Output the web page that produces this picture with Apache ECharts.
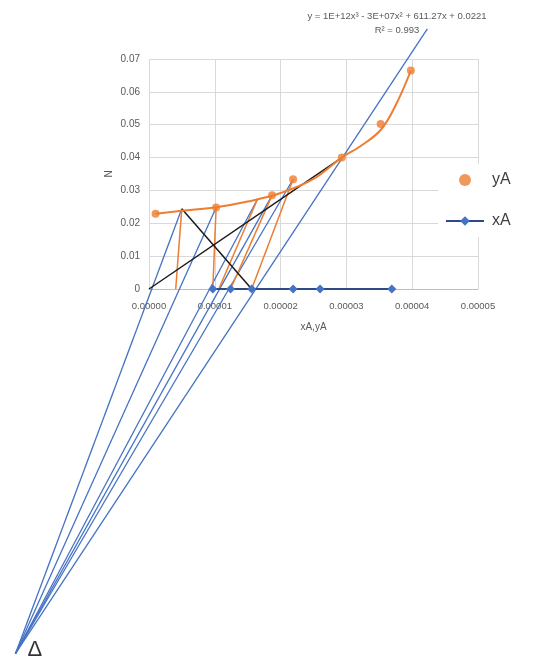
<!DOCTYPE html>
<html>
<head>
<meta charset="utf-8">
<script src="https://cdn.jsdelivr.net/npm/echarts@6/dist/echarts.min.js"></script>
<style>
  html, body { margin: 0; padding: 0; background: #fff; }
  #chart { width: 542px; height: 659px; }
</style>
</head>
<body>
<div id="chart"></div>
<script>
// Upper curve: extract-side points (yA, N)
const yA_x = [1.0e-6, 1.02e-5, 1.87e-5, 2.19e-5, 2.93e-5, 3.52e-5, 3.98e-5];
const yA_N = [0.0229, 0.0248, 0.0285, 0.0334, 0.0400, 0.0502, 0.0665];

// Lower line: raffinate-side points (xA, N = 0)
const xA_x = [9.7e-6, 1.24e-5, 1.56e-5, 2.19e-5, 2.60e-5, 3.69e-5];
const xA_N = [0, 0, 0, 0, 0, 0];

// Cubic trendline through the yA points, sampled along the curve
const trend_x = [1.0e-6, 5.0e-6, 1.0e-5, 1.5e-5, 2.0e-5, 2.5e-5, 2.93e-5, 3.2e-5, 3.52e-5, 3.75e-5, 3.98e-5];
const trend_N = [0.0229, 0.0238, 0.0248, 0.0266, 0.0292, 0.0335, 0.0400, 0.0433, 0.0484, 0.0560, 0.0665];

// Difference point Δ
const deltaPoint = [-2.03e-5, -0.111];

// Operating lines: Δ to each upper end point
const rayEnds = [
  [4.98e-6, 0.0244],
  [1.02e-5, 0.0248],
  [1.65e-5, 0.0274],
  [1.87e-5, 0.0285],
  [2.19e-5, 0.0334],
  [4.23e-5, 0.0792]
];

// Tie lines: xA on N = 0 to the matching yA on the upper curve
const tieLines = [
  [[4.06e-6, 0], [4.98e-6, 0.0244]],
  [[9.7e-6, 0], [1.02e-5, 0.0248]],
  [[1.06e-5, 0], [1.65e-5, 0.0274]],
  [[1.24e-5, 0], [1.87e-5, 0.0285]],
  [[1.56e-5, 0], [2.19e-5, 0.0334]]
];

// Construction lines in black
const blackLines = [
  [[0, 0], [2.93e-5, 0.0400]],
  [[4.98e-6, 0.0244], [1.56e-5, 0]]
];

const equationText = 'y = 1E+12x\u00b3 - 3E+07x\u00b2 + 611.27x + 0.0221';
const r2Text = 'R\u00b2 = 0.993';

const FONT = 'Liberation Sans';
const BLUE = '#4472C4';
const ORANGE = '#ED7D31';

// Straight segments drawn with a lines series so they can run past the plot area
function segments(name, list, color, width, z) {
  return {
    name: name,
    type: 'lines',
    coordinateSystem: 'cartesian2d',
    clip: false,
    silent: true,
    z: z,
    lineStyle: { color: color, width: width, opacity: 1, curveness: 0 },
    data: list.map(function (pair) { return { coords: pair }; })
  };
}

const series = [
  segments('operating', rayEnds.map(function (p) { return [deltaPoint, p]; }), BLUE, 1.3, 2),
  segments('tie', tieLines, ORANGE, 1.5, 3),
  segments('construct', blackLines, '#1a1a1a', 1.5, 4),
  {
    name: 'trend',
    type: 'line',
    data: trend_x.map(function (x, i) { return [x, trend_N[i]]; }),
    smooth: 0.4,
    symbol: 'none',
    silent: true,
    z: 5,
    lineStyle: { color: ORANGE, width: 2 }
  },
  {
    name: 'xA',
    type: 'line',
    data: xA_x.map(function (x, i) { return [x, xA_N[i]]; }),
    symbol: 'diamond',
    symbolSize: 9,
    z: 6,
    lineStyle: { color: '#2B4A86', width: 2.2 },
    itemStyle: { color: BLUE }
  },
  {
    name: 'yA',
    type: 'scatter',
    data: yA_x.map(function (x, i) { return [x, yA_N[i]]; }),
    symbol: 'circle',
    symbolSize: 8,
    z: 7,
    itemStyle: { color: ORANGE }
  },
  {
    name: 'delta',
    type: 'scatter',
    data: [deltaPoint],
    symbolSize: 0,
    clip: false,
    silent: true,
    label: {
      show: true,
      formatter: '\u0394',
      position: 'right',
      distance: 12,
      offset: [0, -4],
      color: '#000',
      fontFamily: FONT,
      fontSize: 22
    }
  }
];

const chart = echarts.init(document.getElementById('chart'), null, { renderer: 'canvas' });

chart.setOption({
  animation: false,
  backgroundColor: '#fff',
  grid: { left: 149, top: 59, width: 329, height: 230, containLabel: false },
  xAxis: {
    type: 'value',
    min: 0,
    max: 0.00005,
    interval: 0.00001,
    name: 'xA,yA',
    nameLocation: 'middle',
    nameGap: 33,
    nameTextStyle: { fontFamily: FONT, fontSize: 10, color: '#595959' },
    axisLine: { show: true, onZero: true, lineStyle: { color: '#BFBFBF', width: 1 } },
    axisTick: { show: false },
    axisLabel: {
      margin: 12,
      fontFamily: FONT,
      fontSize: 9.5,
      color: '#595959',
      formatter: function (v) { return v.toFixed(5); }
    },
    splitLine: { show: true, lineStyle: { color: '#D9D9D9', width: 1 } }
  },
  yAxis: {
    type: 'value',
    min: 0,
    max: 0.07,
    interval: 0.01,
    name: 'N',
    nameLocation: 'middle',
    nameGap: 35,
    nameMoveOverlap: false,
    nameRotate: 90,
    nameTextStyle: { fontFamily: FONT, fontSize: 10, color: '#595959' },
    axisLine: { show: false },
    axisTick: { show: false },
    axisLabel: {
      margin: 9,
      fontFamily: FONT,
      fontSize: 10,
      color: '#595959',
      formatter: function (v) { return v === 0 ? '0' : v.toFixed(2); }
    },
    splitLine: { show: true, lineStyle: { color: '#D9D9D9', width: 1 } }
  },
  legend: {
    data: ['yA', 'xA'],
    orient: 'vertical',
    left: 438,
    top: 164,
    padding: [8, 10, 8, 7],
    backgroundColor: '#fff',
    itemWidth: 38,
    itemHeight: 12,
    itemGap: 25,
    textStyle: { fontFamily: FONT, fontSize: 16, color: '#404040', padding: [0, 0, 0, 3] }
  },
  graphic: [
    {
      type: 'text',
      x: 397, y: 16,
      style: {
        text: equationText,
        x: 0, y: 0,
        fill: '#595959',
        font: '9.5px "' + FONT + '"',
        textAlign: 'center',
        textVerticalAlign: 'middle'
      }
    },
    {
      type: 'text',
      x: 397, y: 30,
      style: {
        text: r2Text,
        x: 0, y: 0,
        fill: '#595959',
        font: '9.5px "' + FONT + '"',
        textAlign: 'center',
        textVerticalAlign: 'middle'
      }
    }
  ],
  series: series
});
</script>
</body>
</html>
